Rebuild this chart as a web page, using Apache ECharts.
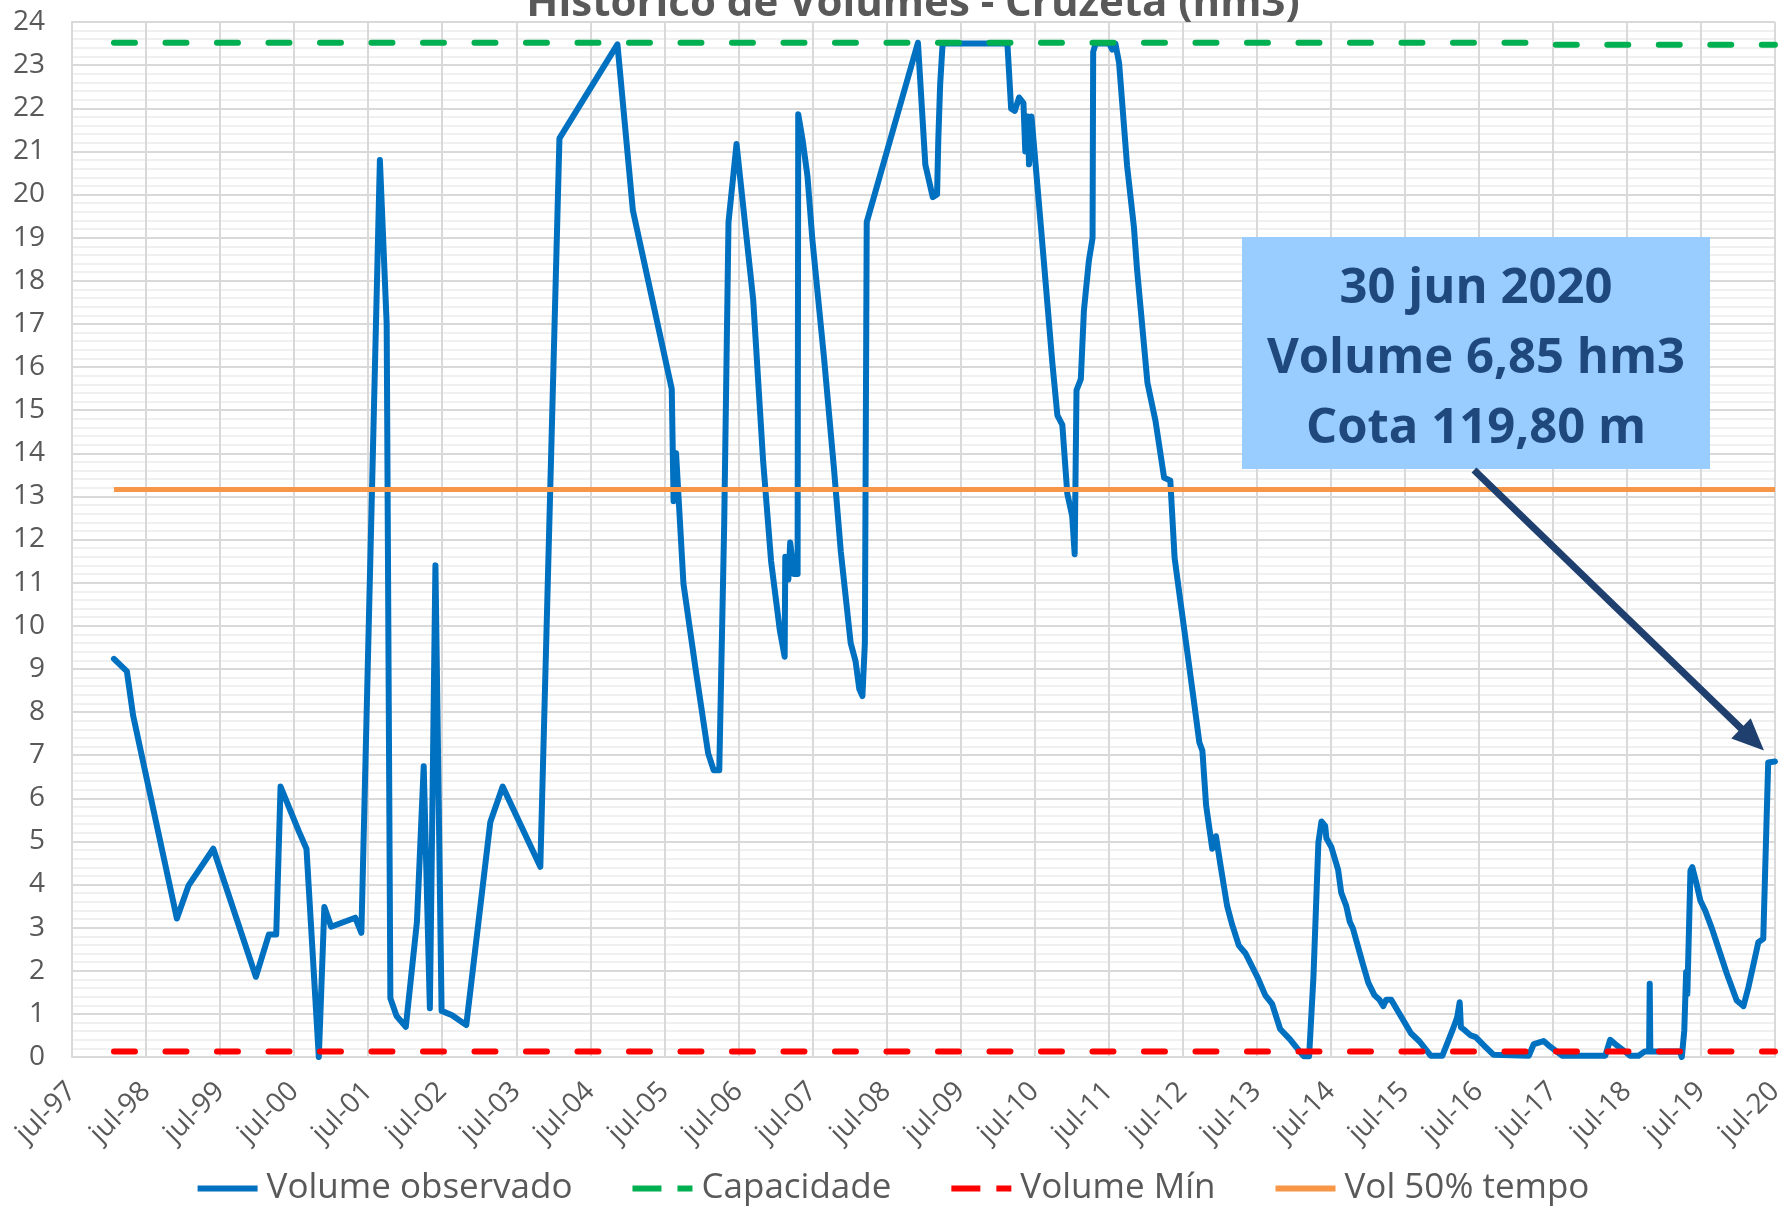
<!DOCTYPE html>
<html lang="pt">
<head>
    <meta charset="UTF-8">
    <title>Histórico de Volumes - Cruzeta</title>
    <script src="https://cdn.jsdelivr.net/npm/echarts@6/dist/echarts.min.js"></script>
    <style>
        html, body { margin: 0; padding: 0; background: #fff; }
        #chart1 { width: 1787px; height: 1208px; }
    </style>
</head>
<body>
<div id="chart1"></div>
<script>
    // eixo x em meses contados a partir de jul/1997
    var rotulosX = ['jul-97','jul-98','jul-99','jul-00','jul-01','jul-02','jul-03','jul-04',
        'jul-05','jul-06','jul-07','jul-08','jul-09','jul-10','jul-11','jul-12','jul-13',
        'jul-14','jul-15','jul-16','jul-17','jul-18','jul-19','jul-20'];

    var meses = [6.8, 8.9, 9.9, 17.0, 18.9, 22.9, 29.8, 31.9, 33.1, 33.8, 36.8, 38.0, 40.0, 40.9, 42.0,
        45.9, 46.9, 49.9, 51.0, 51.6, 52.6, 54.1, 55.9, 57.0, 58.0, 58.9, 59.9, 61.6, 63.9, 67.8,
        69.8, 75.9, 79.0, 88.4, 90.9, 97.2, 97.5, 97.9, 99.1, 101.0, 103.1, 104.0, 104.9, 105.7,
        106.4, 107.7, 110.4, 112.0, 113.3, 114.7, 115.5, 115.6, 116.1, 116.4, 117.0, 117.6, 117.7,
        118.4, 119.2, 120.0, 121.9, 123.5, 124.6, 126.2, 127.0, 127.6, 128.1, 128.5, 128.8, 137.1,
        138.3, 139.5, 140.2, 140.4, 140.7, 141.1, 151.6, 152.2, 152.8, 153.5, 154.2, 154.5, 154.9,
        155.1, 155.5, 156.4, 157.5, 158.9, 159.7, 160.5, 161.3, 162.1, 162.5, 162.8, 163.5, 164.0,
        164.8, 165.4, 165.5, 165.9, 168.1, 168.6, 169.1, 169.7, 171.0, 172.1, 172.6, 174.3, 175.6,
        177.0, 178.0, 178.7, 179.7, 180.8, 181.9, 182.7, 183.2, 183.8, 184.8, 185.4, 186.2, 187.2,
        188.0, 189.1, 190.2, 192.1, 193.4, 194.5, 195.8, 197.4, 198.5, 199.6, 200.5, 201.2, 202.0,
        202.5, 203.1, 203.3, 204.1, 205.2, 205.7, 206.5, 207.1, 207.6, 209.2, 210.1, 211.1, 211.9,
        212.5, 213.0, 213.8, 215.4, 217.0, 218.4, 220.2, 222.1, 223.7, 224.5, 224.9, 225.1, 225.8,
        226.7, 227.5, 229.1, 230.4, 236.1, 236.9, 238.5, 239.3, 241.5, 248.5, 249.3, 250.1, 251.5,
        252.5, 253.9, 254.9, 255.6, 255.7, 255.8, 260.6, 260.9, 261.3, 261.6, 261.8, 262.3, 262.6,
        263.3, 263.9, 264.7, 265.8, 266.8, 268.2, 269.8, 270.9, 271.7, 273.3, 274.1, 274.9, 276.0];

    var volume = [9.23, 8.94, 7.92, 3.21, 3.98, 4.83, 1.86, 2.84, 2.84, 6.27, 5.22, 4.83, 0.0, 3.48, 3.02,
        3.23, 2.88, 20.8, 17.0, 1.36, 0.95, 0.70, 3.13, 6.74, 1.13, 11.4, 1.07, 0.97, 0.74, 5.45,
        6.27, 4.41, 21.3, 23.48, 19.63, 15.49, 12.89, 14.0, 10.97, 9.06, 7.04, 6.65, 6.65, 12.35,
        19.36, 21.17, 17.56, 13.84, 11.5, 9.91, 9.28, 11.6, 11.07, 11.93, 11.2, 11.2, 21.86,
        21.27, 20.42, 18.94, 16.18, 13.63, 11.72, 9.6, 9.17, 8.53, 8.37, 9.6, 19.36, 23.52,
        20.69, 19.94, 20.0, 21.27, 22.55, 23.5, 23.5, 21.99, 21.94, 22.25, 22.12, 21.0, 21.81,
        20.7, 21.81, 20.31, 18.46, 16.07, 14.88, 14.66, 13.07, 12.54, 11.66, 15.46, 15.72, 17.31,
        18.46, 18.99, 23.31, 23.5, 23.5, 23.36, 23.5, 23.05, 20.66, 19.25, 18.28, 15.63, 14.75,
        13.43, 13.37, 11.57, 10.5, 9.34, 8.17, 7.3, 7.1, 5.84, 4.83, 5.12, 4.39, 3.51,
        3.08, 2.59, 2.40, 1.86, 1.43, 1.23, 0.65, 0.41, 0.21, 0.02, 0.02, 1.86, 4.97,
        5.46, 5.36, 5.07, 4.87, 4.34, 3.81, 3.51, 3.13, 2.98, 2.16, 1.72, 1.43, 1.33,
        1.18, 1.33, 1.33, 0.94, 0.55, 0.36, 0.03, 0.03, 0.61, 0.92, 1.27, 0.69, 0.61,
        0.5, 0.46, 0.23, 0.05, 0.03, 0.3, 0.37, 0.27, 0.03, 0.03, 0.4, 0.3, 0.15,
        0.03, 0.03, 0.13, 0.13, 1.7, 0.13, 0.13, 0.0, 0.61, 1.97, 1.46, 4.32, 4.4,
        4.01, 3.63, 3.39, 2.97, 2.54, 1.93, 1.31, 1.18, 1.62, 2.66, 2.74, 6.83, 6.85];

    var capMeses = [6.8, 238, 240, 276];
    var capacidade = [23.52, 23.52, 23.47, 23.47];
    var minMeses = [6.8, 276];
    var volumeMin = [0.13, 0.13];
    var v50Meses = [6.8, 276];
    var vol50 = [13.16, 13.16];

    var nota = ['30 jun 2020', 'Volume 6,85 hm3', 'Cota 119,80 m'];

    function pares(xs, ys) {
        var out = [];
        for (var i = 0; i < xs.length; i++) out.push([xs[i], ys[i]]);
        return out;
    }

    var fonte = '"Open Sans", "Noto Sans", sans-serif';
    var iconeCheio = 'path://M0,0H60V6H0Z';
    var iconeTracejado = 'path://M0,0H29V6H0ZM45,0H60V6H45Z';
    var chart = echarts.init(document.getElementById('chart1'), null, {renderer: 'canvas'});

    var option = {
        animation: false,
        backgroundColor: '#ffffff',
        title: {
            text: 'Histórico de Volumes - Cruzeta (hm3)',
            left: 908,
            textAlign: 'center',
            top: -22,
            textStyle: {fontFamily: fonte, fontSize: 42, fontWeight: 'bold', color: '#595959'}
        },
        grid: {left: 72, right: 6, top: 22, bottom: 151},
        legend: {
            left: 'center',
            top: 1166,
            itemWidth: 68,
            itemHeight: 6,
            itemGap: 60,
            textStyle: {fontFamily: fonte, fontSize: 35, color: '#595959'},
            data: [
                {name: 'Volume observado', icon: iconeCheio},
                {name: 'Capacidade', icon: iconeTracejado},
                {name: 'Volume Mín', icon: iconeTracejado},
                {name: 'Vol 50% tempo', icon: iconeCheio}
            ]
        },
        xAxis: {
            type: 'value',
            min: 0,
            max: 276,
            interval: 12,
            axisLine: {lineStyle: {color: '#D9D9D9', width: 2}},
            axisTick: {show: false},
            splitLine: {show: true, lineStyle: {color: '#D9D9D9', width: 2}},
            axisLabel: {
                rotate: 45,
                margin: 30,
                fontFamily: fonte,
                fontSize: 28,
                color: '#595959',
                formatter: function (v) { return rotulosX[Math.round(v / 12)]; }
            }
        },
        yAxis: {
            type: 'value',
            min: 0,
            max: 24,
            interval: 1,
            axisLine: {show: true, lineStyle: {color: '#D9D9D9', width: 2}},
            axisTick: {show: false},
            axisLabel: {margin: 27, fontFamily: fonte, fontSize: 28, color: '#595959'},
            splitLine: {lineStyle: {color: '#D9D9D9', width: 2}},
            minorTick: {show: false, splitNumber: 5},
            minorSplitLine: {show: true, lineStyle: {color: '#F0F0F0', width: 2}}
        },
        series: [
            {
                name: 'Volume observado', type: 'line', symbol: 'none',
                data: pares(meses, volume),
                lineStyle: {color: '#0070C0', width: 6, join: 'round', cap: 'round'},
                itemStyle: {color: '#0070C0'}
            },
            {
                name: 'Capacidade', type: 'line', symbol: 'none',
                data: pares(capMeses, capacidade),
                lineStyle: {color: '#00B050', width: 6, type: [21, 30.5], cap: 'round'},
                itemStyle: {color: '#00B050'}
            },
            {
                name: 'Volume Mín', type: 'line', symbol: 'none',
                data: pares(minMeses, volumeMin),
                lineStyle: {color: '#FF0000', width: 6, type: [21, 30.5], cap: 'round'},
                itemStyle: {color: '#FF0000'}
            },
            {
                name: 'Vol 50% tempo', type: 'line', symbol: 'none',
                data: pares(v50Meses, vol50),
                lineStyle: {color: '#F79646', width: 5},
                itemStyle: {color: '#F79646'}
            }
        ]
    };
    chart.setOption(option);

    // caixa de anotação e seta apontando para o último ponto
    var ult = chart.convertToPixel({gridIndex: 0}, [meses[meses.length - 1], volume[volume.length - 1]]);
    var x0 = 1474, y0 = 470;
    var tx = ult[0] - 11, ty = ult[1] - 11;
    var dx = tx - x0, dy = ty - y0, len = Math.sqrt(dx * dx + dy * dy);
    var ux = dx / len, uy = dy / len;
    var cab = 32, meia = 14;
    var bx = tx - ux * cab, by = ty - uy * cab;

    chart.setOption({
        graphic: [
            {type: 'rect', shape: {x: 1242, y: 237, width: 468, height: 232}, style: {fill: '#99CCFF'}, z: 100},
            {type: 'text', x: 1476, y: 289, z: 101, style: {text: nota[0], fill: '#1F497D', font: 'bold 49px ' + fonte, textAlign: 'center', textVerticalAlign: 'middle'}},
            {type: 'text', x: 1476, y: 359, z: 101, style: {text: nota[1], fill: '#1F497D', font: 'bold 49px ' + fonte, textAlign: 'center', textVerticalAlign: 'middle'}},
            {type: 'text', x: 1476, y: 429, z: 101, style: {text: nota[2], fill: '#1F497D', font: 'bold 49px ' + fonte, textAlign: 'center', textVerticalAlign: 'middle'}},
            {type: 'line', z: 101, shape: {x1: x0, y1: y0, x2: bx + ux * 4, y2: by + uy * 4}, style: {stroke: '#1F3F6E', lineWidth: 7}},
            {type: 'polygon', z: 101, shape: {points: [[tx, ty], [bx - uy * meia, by + ux * meia], [bx + uy * meia, by - ux * meia]]}, style: {fill: '#1F3F6E'}}
        ]
    });
</script>
</body>
</html>
